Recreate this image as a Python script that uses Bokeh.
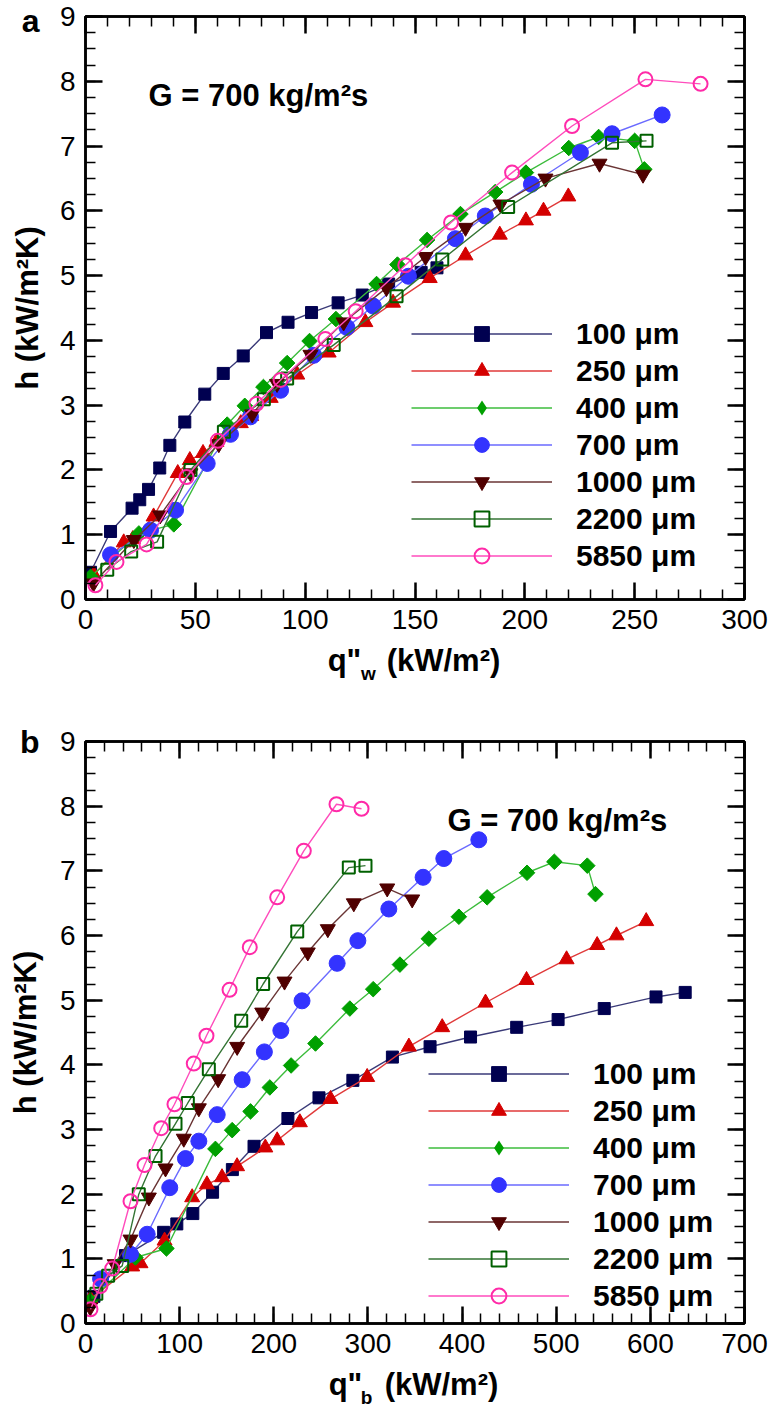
from bokeh.plotting import figure
from bokeh.models import (Range1d, LinearAxis, SingleIntervalTicker, FixedTicker,
                          Label, Legend, LegendItem)
from bokeh.layouts import column
from bokeh.embed import file_html
from bokeh.resources import INLINE

# ---------------- data ----------------
series_labels = ["100 μm", "250 μm", "400 μm", "700 μm", "1000 μm", "2200 μm", "5850 μm"]

h_100 = [0.42, 1.05, 1.41, 1.54, 1.70, 2.03, 2.38, 2.74, 3.17, 3.49, 3.76, 4.12, 4.28, 4.43, 4.58, 4.70, 4.87, 5.05, 5.12]
qw_100 = [2.3, 11.4, 21.2, 24.7, 28.7, 33.8, 38.4, 45.2, 54.3, 62.7, 71.8, 82.4, 92.2, 102.9, 115, 126, 138, 152.8, 160]
qb_100 = [9, 42.5, 83, 97, 114, 135, 156, 179, 215, 248, 284, 326, 366, 409, 458, 502, 551, 606, 637]

h_250 = [0.38, 0.88, 0.93, 1.28, 1.95, 2.15, 2.26, 2.43, 2.72, 2.83, 3.11, 3.47, 3.81, 4.28, 4.58, 4.96, 5.31, 5.63, 5.85, 6.00, 6.22]
qw_250 = [3.8, 17.4, 21.5, 31, 42, 47.5, 53.5, 59.6, 70.7, 75.4, 84.3, 96.4, 110.7, 127.4, 140, 156.7, 173, 188.6, 200.5, 208.5, 219.8]
qb_250 = [5.3, 49.6, 58.4, 84, 113.3, 129, 145, 161, 191, 203.6, 227.7, 260.3, 299.2, 343.5, 378.9, 424.9, 468.5, 511, 543.5, 564, 595.6]

h_400 = [0.35, 1.02, 1.16, 2.70, 2.99, 3.28, 3.65, 3.99, 4.33, 4.87, 5.17, 5.55, 5.95, 6.29, 6.59, 6.97, 7.14, 7.08, 6.64]
qw_400 = [2.3, 24.3, 40.2, 64.5, 72.5, 81, 91.8, 102, 114, 132.5, 142, 155.5, 170.7, 186.5, 200.5, 220, 233.6, 250, 254.4]
qb_400 = [5, 53, 86, 138, 155.8, 175.3, 195.8, 218.4, 244.3, 280.8, 305.6, 334, 364.7, 396.6, 426.6, 469, 498, 533, 541.7]

h_700 = [0.69, 1.07, 1.38, 2.10, 2.55, 2.82, 3.23, 3.77, 4.20, 4.53, 4.99, 5.57, 5.92, 6.41, 6.90, 7.19, 7.48]
qw_700 = [11.4, 29.6, 41, 55.4, 66, 75.1, 88.8, 103.9, 119, 131, 147, 168.4, 182, 203, 225.3, 239.7, 262.5]
qb_700 = [16, 47.8, 65.5, 89.5, 106.2, 120.4, 139.9, 166.4, 190, 207.5, 230, 267.3, 289.3, 322.2, 358.6, 380.6, 417.8]

h_1000 = [0.25, 0.92, 1.30, 1.95, 2.40, 2.86, 3.33, 3.78, 4.28, 4.81, 5.29, 5.74, 6.10, 6.50, 6.73, 6.56]
qw_1000 = [3.6, 22, 34, 47.8, 60.7, 75.9, 87.2, 102.4, 117.5, 137, 154.8, 173, 188.9, 209.4, 234, 253.8]
qb_1000 = [5, 31, 47.8, 67.3, 85, 104.4, 120.4, 140.9, 161.1, 187.7, 211.4, 236.1, 257.4, 285, 320.5, 347]

h_2200 = [0.46, 0.74, 0.89, 2.00, 2.59, 3.09, 3.41, 3.93, 4.68, 5.25, 6.06, 7.05, 7.08]
qw_2200 = [9.9, 20.8, 32.6, 47.8, 63, 81.2, 91.8, 113, 141.6, 162.4, 192.4, 239.7, 255.4]
qb_2200 = [11.5, 24, 39, 56.6, 74.4, 95.6, 108.7, 131, 165.4, 188.7, 224.9, 279.7, 297.4]

h_5850 = [0.22, 0.58, 0.85, 1.89, 2.45, 3.02, 3.39, 4.02, 4.45, 5.16, 5.82, 6.59, 7.31, 8.03, 7.96]
qw_5850 = [4.5, 14.1, 27.8, 46, 60.2, 77.8, 88.8, 109.2, 123, 145.6, 166.4, 194.2, 221.5, 254.9, 280]
qb_5850 = [5.3, 15.9, 28.4, 47.8, 62.7, 80.4, 94.5, 115, 128.5, 153, 174.5, 203.6, 231.9, 266.6, 293.2]

h_all = [h_100, h_250, h_400, h_700, h_1000, h_2200, h_5850]
qw_all = [qw_100, qw_250, qw_400, qw_700, qw_1000, qw_2200, qw_5850]
qb_all = [qb_100, qb_250, qb_400, qb_700, qb_1000, qb_2200, qb_5850]

# ---------------- styles ----------------
# plot marker, size, angle, legend marker
styles = [
    dict(marker="square", size=12, angle=0.0, leg="square", fill="#000050", edge="#000050", line="#3a3a78", lw=1),
    dict(marker="triangle", size=15, angle=0.0, leg="triangle", fill="#d40000", edge="#d40000", line="#e03a3a", lw=1),
    dict(marker="square", size=11, angle=0.785398, leg="diamond", fill="#00a000", edge="#00a000", line="#3cbc3c", lw=1),
    dict(marker="circle", size=16, angle=0.0, leg="circle", fill="#3333ff", edge="#3333ff", line="#6a6aff", lw=1),
    dict(marker="inverted_triangle", size=15, angle=0.0, leg="inverted_triangle", fill="#500000", edge="#500000", line="#6a3535", lw=1),
    dict(marker="square", size=12, angle=0.0, leg="square", fill=None, edge="#006000", line="#347434", lw=2),
    dict(marker="circle", size=14, angle=0.0, leg="circle", fill=None, edge="#ff2aa8", line="#ff4cbc", lw=2),
]

TICK_FONT = "Liberation Sans"
BOLD_FONT = "Liberation Sans"
FRAME_W = 659


def hidden_labels(ax):
    ax.major_label_text_font_size = "1px"
    ax.major_label_text_color = None
    ax.major_label_standoff = 0


def bare(ax):
    ax.axis_line_color = None
    ax.major_tick_line_color = None
    ax.minor_tick_line_color = None
    ax.major_tick_in = 0
    ax.major_tick_out = 0
    ax.minor_tick_in = 0
    ax.minor_tick_out = 0


def make_panel(xs_all, xmax, xint, letter, top_border, bottom_border, fig_h,
               g_pos, legend_pos, sub):
    frame_h = fig_h - top_border - bottom_border
    p = figure(frame_width=FRAME_W, frame_height=frame_h,
               x_range=Range1d(0, xmax), y_range=Range1d(0, 9),
               output_backend="svg", toolbar_location=None,
               min_border_left=85, min_border_right=32,
               min_border_top=top_border, min_border_bottom=bottom_border,
               x_axis_type=None, y_axis_type=None)
    p.extra_x_ranges = {"px": Range1d(0, FRAME_W)}
    p.grid.visible = False
    p.outline_line_color = "black"
    p.outline_line_width = 2.5
    p.background_fill_color = "white"
    p.border_fill_color = "white"

    def style_axis(ax, show_labels):
        ax.axis_line_width = 2.5
        ax.axis_line_color = "black"
        ax.major_tick_in = 17
        ax.major_tick_out = 0
        ax.minor_tick_in = 10
        ax.minor_tick_out = 0
        ax.major_tick_line_width = 2.5
        ax.minor_tick_line_width = 1.5
        ax.major_tick_line_color = "black"
        ax.minor_tick_line_color = "black"
        if show_labels:
            ax.major_label_text_font = TICK_FONT
            ax.major_label_text_font_size = "28px"
            ax.major_label_text_color = "black"
        else:
            hidden_labels(ax)

    xt = SingleIntervalTicker(interval=xint, num_minor_ticks=5)
    yt = SingleIntervalTicker(interval=1, num_minor_ticks=4)

    xb = LinearAxis(ticker=xt)
    style_axis(xb, True)
    xb.major_label_standoff = 10
    p.add_layout(xb, "below")

    if sub == "w":
        pos_q, pos_s, pos_u = 259, 283, 358
    else:
        pos_q, pos_s, pos_u = 260, 281, 356
    xt2 = LinearAxis(x_range_name="px",
                     ticker=FixedTicker(ticks=[pos_q, pos_u], minor_ticks=[]))
    bare(xt2)
    xt2.major_label_overrides = {pos_q: 'q"', pos_u: "(kW/m²)"}
    xt2.major_label_text_font = BOLD_FONT
    xt2.major_label_text_font_style = "bold"
    xt2.major_label_text_font_size = "31px"
    xt2.major_label_text_color = "black"
    xt2.major_label_standoff = 11
    p.add_layout(xt2, "below")

    xt3 = LinearAxis(x_range_name="px",
                     ticker=FixedTicker(ticks=[pos_s], minor_ticks=[]))
    bare(xt3)
    xt3.major_label_overrides = {pos_s: sub}
    xt3.major_label_text_font = BOLD_FONT
    xt3.major_label_text_font_style = "bold"
    xt3.major_label_text_font_size = "19px"
    xt3.major_label_text_color = "black"
    xt3.major_label_standoff = -18
    p.add_layout(xt3, "below")

    xa = LinearAxis(ticker=xt)
    style_axis(xa, False)
    p.add_layout(xa, "above")

    yl = LinearAxis(ticker=yt)
    style_axis(yl, True)
    yl.major_label_standoff = 10
    p.add_layout(yl, "left")

    yl2 = LinearAxis(ticker=FixedTicker(ticks=[9], minor_ticks=[]),
                     axis_label="h (kW/m²K)")
    bare(yl2)
    yl2.major_label_overrides = {9: letter}
    yl2.major_label_text_font = BOLD_FONT
    yl2.major_label_text_font_style = "bold"
    yl2.major_label_text_font_size = "32px"
    yl2.major_label_text_color = "black"
    yl2.major_label_standoff = 17
    yl2.axis_label_standoff = -26
    yl2.axis_label_text_font = BOLD_FONT
    yl2.axis_label_text_font_style = "bold"
    yl2.axis_label_text_font_size = "31px"
    yl2.axis_label_text_color = "black"
    p.add_layout(yl2, "left")

    yr = LinearAxis(ticker=yt)
    style_axis(yr, False)
    p.add_layout(yr, "right")

    items = []
    for xs, hs, st, lab in zip(xs_all, h_all, styles, series_labels):
        lr = p.line(xs, hs, line_color=st["line"], line_width=1.4)
        sr = p.scatter(xs, hs, marker=st["marker"], size=st["size"],
                       angle=st["angle"],
                       fill_color=st["fill"], line_color=st["edge"],
                       line_width=st["lw"])
        if st["leg"] != st["marker"]:
            # legend-only glyph of the same series, drawn at zero size in the plot
            gr = p.scatter(xs, hs, marker=st["leg"], size=0,
                           fill_color=st["fill"], line_color=st["edge"],
                           line_width=0)
            items.append(LegendItem(label=lab, renderers=[lr, gr]))
        else:
            items.append(LegendItem(label=lab, renderers=[lr, sr]))

    leg = Legend(items=items, location=legend_pos)
    leg.glyph_width = 141
    leg.glyph_height = 37
    leg.label_height = 37
    leg.spacing = 0
    leg.padding = 0
    leg.margin = 0
    leg.label_standoff = 24
    leg.border_line_alpha = 0
    leg.background_fill_alpha = 0
    leg.label_text_font = BOLD_FONT
    leg.label_text_font_style = "bold"
    leg.label_text_font_size = "30px"
    leg.label_text_color = "black"
    p.add_layout(leg)

    p.add_layout(Label(x=g_pos[0], y=g_pos[1], x_units="screen", y_units="screen",
                       text="G = 700 kg/m²s", text_font=BOLD_FONT,
                       text_font_style="bold", text_font_size="31px",
                       text_color="black", text_baseline="alphabetic"))
    return p


pa = make_panel(qw_all, 300, 50, "a", 16, 106, 705, (63, 504), (326, 25), "w")
pb = make_panel(qb_all, 700, 100, "b", 36, 91, 709, (362, 503), (343, 9), "b")

layout = column(pa, pb, spacing=0)
open("out.html", "w").write(file_html(layout, INLINE))
